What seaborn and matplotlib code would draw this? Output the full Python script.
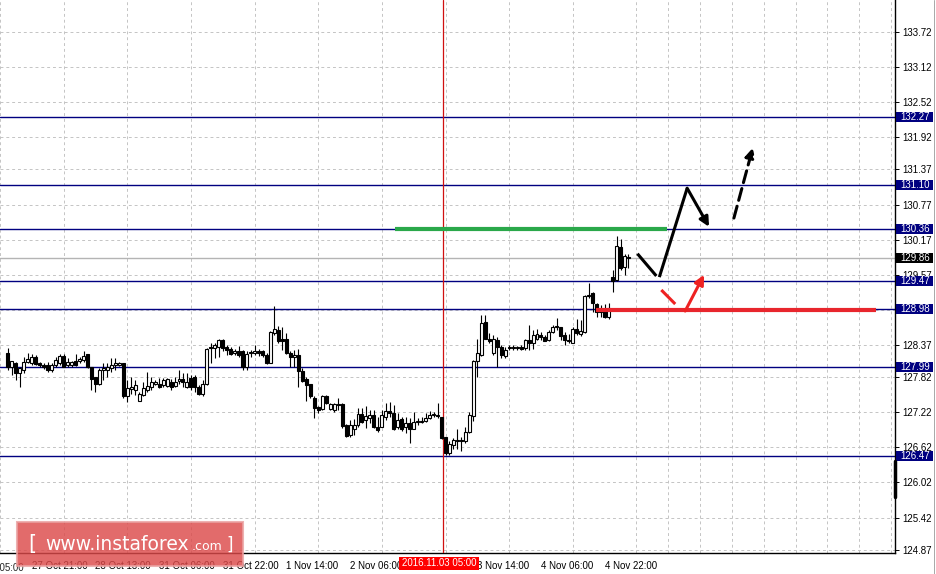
"""USD/JPY H1 chart with support/resistance levels and forecast arrows"""
import matplotlib
matplotlib.use("Agg")
import matplotlib.pyplot as plt
import matplotlib.transforms as mtransforms
from matplotlib.lines import Line2D
from matplotlib.patches import Rectangle, FancyBboxPatch
import numpy as np
import pandas as pd
import seaborn as sns

# hourly candles
opens = [
    128.24, 127.99, 128.07, 127.89, 127.94, 128.08, 128.06, 128.17, 128.07, 128.03,
    128.03, 127.95, 128.03, 128.06, 128.19, 128.02, 128.02, 128.09, 128.10, 128.11,
    128.21, 127.99, 127.82, 127.70, 127.94, 127.94, 127.97, 128.03, 128.03, 128.06,
    127.49, 127.61, 127.60, 127.42, 127.51, 127.60, 127.66, 127.71, 127.71, 127.69,
    127.67, 127.74, 127.67, 127.76, 127.78, 127.65, 127.81, 127.82, 127.65, 127.53,
    127.70, 128.34, 128.31, 128.33, 128.46, 128.34, 128.30, 128.24, 128.26, 128.26,
    128.00, 128.23, 128.23, 128.26, 128.26, 128.20, 128.07, 128.57, 128.63, 128.47,
    128.48, 128.23, 128.16, 128.20, 127.93, 127.78, 127.70, 127.47, 127.31, 127.27,
    127.50, 127.27, 127.26, 127.36, 127.36, 127.00, 126.83, 126.93, 127.00, 127.19,
    127.08, 127.12, 127.17, 126.97, 126.97, 127.14, 127.24, 127.20, 126.96, 127.10,
    126.96, 127.03, 126.94, 127.06, 127.06, 127.07, 127.12, 127.17, 127.18, 127.14,
    126.79, 126.53, 126.66, 126.73, 126.74, 126.73, 126.88, 127.16, 128.10, 128.20,
    128.77, 128.48, 128.23, 128.45, 128.34, 128.19, 128.31, 128.33, 128.31, 128.34,
    128.31, 128.45, 128.40, 128.47, 128.54, 128.51, 128.45, 128.60, 128.67, 128.67,
    128.54, 128.45, 128.41, 128.65, 128.56, 128.60, 129.21, 129.25, 129.07, 128.97,
    128.96, 128.84, 129.53, 129.48, 130.05, 129.70, 129.87,
]
highs = [
    128.31, 128.10, 128.08, 128.00, 128.17, 128.24, 128.22, 128.20, 128.08, 128.07,
    128.08, 128.06, 128.17, 128.22, 128.21, 128.14, 128.10, 128.22, 128.17, 128.26,
    128.22, 127.99, 127.83, 127.97, 128.06, 128.06, 128.14, 128.14, 128.08, 128.07,
    127.77, 127.83, 127.77, 127.57, 127.74, 127.90, 127.83, 127.77, 127.80, 127.80,
    127.80, 127.78, 127.83, 127.95, 127.89, 127.89, 127.85, 127.86, 127.69, 127.77,
    128.31, 128.41, 128.40, 128.47, 128.47, 128.37, 128.34, 128.30, 128.35, 128.28,
    128.26, 128.28, 128.37, 128.30, 128.28, 128.23, 128.61, 129.03, 128.69, 128.67,
    128.57, 128.26, 128.28, 128.30, 127.97, 127.83, 127.71, 127.49, 127.33, 127.51,
    127.51, 127.37, 127.38, 127.47, 127.37, 127.02, 127.09, 127.10, 127.29, 127.29,
    127.33, 127.26, 127.25, 127.14, 127.26, 127.37, 127.40, 127.34, 127.20, 127.14,
    127.14, 127.12, 127.22, 127.12, 127.14, 127.20, 127.24, 127.23, 127.37, 127.14,
    126.80, 126.72, 126.78, 126.94, 126.80, 126.97, 127.23, 128.11, 128.48, 128.89,
    128.89, 128.57, 128.54, 128.51, 128.37, 128.34, 128.37, 128.37, 128.36, 128.37,
    128.48, 128.71, 128.63, 128.64, 128.60, 128.54, 128.63, 128.71, 128.83, 128.68,
    128.60, 128.56, 128.68, 128.81, 128.80, 129.22, 129.43, 129.28, 129.09, 129.05,
    129.07, 129.09, 129.65, 130.23, 130.18, 129.92, 129.92,
]
lows = [
    127.95, 127.86, 127.77, 127.65, 127.89, 128.06, 128.03, 128.02, 128.00, 127.96,
    127.90, 127.91, 128.00, 128.03, 127.99, 128.00, 128.00, 128.01, 128.06, 128.08,
    127.97, 127.60, 127.57, 127.69, 127.77, 127.83, 127.91, 127.94, 128.01, 127.46,
    127.40, 127.54, 127.51, 127.41, 127.49, 127.57, 127.60, 127.69, 127.63, 127.66,
    127.65, 127.60, 127.65, 127.71, 127.66, 127.63, 127.60, 127.57, 127.51, 127.49,
    127.69, 128.06, 128.14, 128.17, 128.27, 128.20, 128.20, 128.20, 128.16, 127.94,
    127.94, 128.17, 128.20, 128.18, 128.17, 128.05, 128.06, 128.54, 128.40, 128.28,
    128.22, 128.00, 128.00, 127.65, 127.74, 127.42, 127.47, 127.12, 127.20, 127.25,
    127.36, 127.26, 127.23, 127.26, 126.95, 126.80, 126.80, 126.83, 126.97, 127.03,
    126.95, 127.03, 126.95, 126.89, 126.96, 127.09, 127.14, 126.92, 126.93, 126.90,
    126.86, 126.70, 126.93, 127.01, 127.03, 127.05, 127.10, 127.14, 127.12, 126.77,
    126.49, 126.49, 126.60, 126.59, 126.55, 126.70, 126.86, 127.07, 127.83, 128.19,
    128.47, 128.40, 128.20, 128.00, 128.15, 128.15, 128.28, 128.28, 128.28, 128.28,
    128.28, 128.28, 128.30, 128.45, 128.45, 128.43, 128.44, 128.57, 128.63, 128.45,
    128.37, 128.40, 128.40, 128.54, 128.52, 128.58, 129.17, 128.94, 128.85, 128.85,
    128.83, 128.81, 129.28, 129.47, 129.66, 129.57, 129.68,
]
closes = [
    127.99, 128.10, 127.89, 127.97, 128.08, 128.13, 128.16, 128.04, 128.02, 128.00,
    127.95, 128.03, 128.11, 128.19, 128.00, 128.08, 128.08, 128.02, 128.13, 128.19,
    127.99, 127.78, 127.70, 127.95, 127.97, 128.00, 128.03, 128.06, 128.07, 127.49,
    127.63, 127.66, 127.69, 127.53, 127.63, 127.67, 127.74, 127.74, 127.66, 127.77,
    127.78, 127.66, 127.74, 127.78, 127.74, 127.74, 127.65, 127.65, 127.54, 127.71,
    128.30, 128.31, 128.37, 128.46, 128.31, 128.28, 128.22, 128.27, 128.20, 128.00,
    128.22, 128.24, 128.26, 128.23, 128.20, 128.06, 128.60, 128.64, 128.44, 128.44,
    128.23, 128.16, 128.20, 127.93, 127.76, 127.69, 127.49, 127.29, 127.25, 127.50,
    127.37, 127.36, 127.36, 127.34, 126.98, 126.81, 127.00, 127.00, 127.19, 127.06,
    127.16, 127.17, 126.97, 126.92, 127.17, 127.24, 127.20, 126.93, 127.09, 126.93,
    127.03, 126.93, 127.05, 127.07, 127.07, 127.13, 127.17, 127.18, 127.16, 126.78,
    126.52, 126.67, 126.74, 126.74, 126.73, 126.89, 127.17, 128.10, 128.23, 128.74,
    128.48, 128.44, 128.48, 128.34, 128.20, 128.28, 128.33, 128.31, 128.33, 128.30,
    128.45, 128.40, 128.54, 128.56, 128.50, 128.44, 128.60, 128.68, 128.69, 128.52,
    128.45, 128.43, 128.65, 128.57, 128.61, 129.21, 129.22, 129.08, 128.94, 128.94,
    128.84, 129.01, 129.47, 130.06, 129.68, 129.89, 129.86,
]

# axis labels (empty where the reference hides the label under a box)
price_ticks = [133.72, 133.12, 132.52, 131.92, 131.37, 130.77, 130.17, 129.57,
               128.97, 128.37, 127.82, 127.22, 126.62, 126.02, 125.42, 124.87]
price_labels = ["133.72", "133.12", "132.52", "131.92", "131.37", "130.77", "130.17",
                "129.57", "", "128.37", "127.82", "127.22", "126.62", "126.02",
                "125.42", "124.87"]
time_pos = [6, 22, 38, 54, 70, 86, 102, 118, 134, 150]
time_labels = ["27 Oct 21:00", "28 Oct 13:00", "31 Oct 06:00", "31 Oct 22:00",
               "1 Nov 14:00", "2 Nov 06:00", "", "3 Nov 14:00",
               "4 Nov 06:00", "4 Nov 22:00"]

# horizontal levels
levels = [132.27, 131.10, 130.36, 129.47, 128.98, 127.99, 126.47]
bid = 129.86
cross_pos = 109.25
cross_label = "2016.11.03 05:00"

# analyst drawings (candle index, price)
green_x = [97.25, 165.75]
green_y = [130.36, 130.36]
red_x = [147.75, 218.25]
red_y = [128.96, 128.96]
black_segs = [((158.25, 129.93), (163.0, 129.55)),
              ((163.75, 129.53), (170.75, 131.05))]
black_arrow = ((170.75, 131.05), (176.25, 130.39))
dash_arrow = ((182.5, 130.54), (187.25, 131.74))
red_seg = ((164.25, 129.31), (167.75, 129.07))
red_arrow = ((170.25, 128.95), (175.0, 129.57))

NAVY = "#000080"
FS = 7

sns.set_style("white")
plt.rcParams["font.family"] = ["Liberation Sans", "DejaVu Sans"]

df = pd.DataFrame({"open": opens, "high": highs, "low": lows, "close": closes})
df["idx"] = np.arange(len(df))
df["bull"] = df["close"] >= df["open"]
df["bottom"] = df[["open", "close"]].min(axis=1)
df["body"] = (df["close"] - df["open"]).abs().clip(lower=0.012)

fig = plt.figure(figsize=(9.37, 5.74), dpi=100)
ax = fig.add_axes([0, 21 / 574, 895 / 937, 553 / 574])
ax.set_xlim(-0.75, 223)
ax.set_ylim(124.814, 134.267)

# grid
ax.set_axisbelow(True)
ax.set_yticks(price_ticks)
ax.set_yticklabels(price_labels)
ax.set_xticks(time_pos)
ax.set_xticklabels(time_labels, ha="left")
ax.set_xticks(np.arange(-2, 224, 8), minor=True)
grid_kw = dict(color="#c4c4c4", lw=0.7, ls=(0, (3, 3)))
ax.grid(True, axis="y", which="major", **grid_kw)
ax.grid(True, axis="x", which="minor", **grid_kw)
ax.grid(False, axis="x", which="major")
ax.yaxis.tick_right()
ax.tick_params(axis="y", labelsize=FS, length=3, width=0.7, pad=2, colors="black")
ax.tick_params(axis="x", which="major", labelsize=FS, length=4, width=0.7, pad=2,
               colors="black")
ax.tick_params(axis="x", which="minor", length=0)
for side in ["top", "left"]:
    ax.spines[side].set_visible(False)
for side in ["bottom", "right"]:
    ax.spines[side].set_color("black")
    ax.spines[side].set_linewidth(1)

# levels
for lv in levels:
    ax.axhline(lv, color=NAVY, lw=1, zorder=2)
ax.axhline(bid, color="#b4b4b4", lw=1, zorder=2)
ax.axvline(cross_pos, color="#d01010", lw=0.9, zorder=2.6)

# candles
ax.vlines(df["idx"], df["low"], df["high"], color="black", lw=0.8, zorder=3)
ax.bar(df["idx"], df["body"], bottom=df["bottom"], width=0.75,
       color=np.where(df["bull"], "white", "black"), edgecolor="black",
       linewidth=0.8, zorder=4)

# drawings
ax.plot(green_x, green_y, color="#2aa84a", lw=3, solid_capstyle="butt", zorder=5)
ax.plot(red_x, red_y, color="#e8262d", lw=3, solid_capstyle="butt", zorder=5)
for (x0, y0), (x1, y1) in black_segs:
    ax.plot([x0, x1], [y0, y1], color="black", lw=2.2, solid_capstyle="butt", zorder=6)
ax.plot([red_seg[0][0], red_seg[1][0]], [red_seg[0][1], red_seg[1][1]],
        color="#ee2222", lw=2.2, solid_capstyle="butt", zorder=6)
ax.annotate("", xy=black_arrow[1], xytext=black_arrow[0], zorder=6,
            arrowprops=dict(arrowstyle="-|>", color="black", lw=2.2,
                            mutation_scale=14, shrinkA=0, shrinkB=0))
ax.annotate("", xy=dash_arrow[1], xytext=dash_arrow[0], zorder=6,
            arrowprops=dict(arrowstyle="-|>", color="black", lw=2.2, ls=(0, (4, 2)),
                            mutation_scale=14, shrinkA=0, shrinkB=0))
ax.annotate("", xy=red_arrow[1], xytext=red_arrow[0], zorder=6,
            arrowprops=dict(arrowstyle="-|>", color="#ee2222", lw=2.2,
                            mutation_scale=14, shrinkA=0, shrinkB=0))

# price boxes on the right scale
trans = mtransforms.blended_transform_factory(ax.transAxes, ax.transData)
box_w = 37 / 895
box_h = 10 / 58.5
for lv, face in [(v, NAVY) for v in levels] + [(bid, "black")]:
    ax.add_patch(Rectangle((1.0015, lv - box_h / 2), box_w, box_h, transform=trans,
                           facecolor=face, edgecolor="none", clip_on=False, zorder=7))
    ax.text(1.0015 + box_w / 2, lv, f"{lv:.2f}", transform=trans, color="white",
            fontsize=FS, ha="center", va="center", clip_on=False, zorder=8)
ax.plot([1.0, 1.0], [126.39, 125.77], transform=trans, color="black", lw=2.5,
        clip_on=False, zorder=7)
ax.text(-10, -0.018, "27 Oct 05:00", transform=mtransforms.blended_transform_factory(
    ax.transData, ax.transAxes), fontsize=FS, ha="left", va="top", clip_on=False)

# crosshair time label
fig.add_artist(Rectangle((399 / 937, 4 / 574), 80 / 937, 13 / 574,
                         transform=fig.transFigure, facecolor="red", edgecolor="none"))
fig.text(439 / 937, 10.5 / 574, cross_label, color="white", fontsize=FS,
         ha="center", va="center")

# watermark
fig.add_artist(FancyBboxPatch((17 / 937, 8 / 574), 226 / 937, 44 / 574,
                              boxstyle="square,pad=0", transform=fig.transFigure,
                              facecolor="#dc4a4a", edgecolor="#eaa0a0", lw=1.5,
                              alpha=0.82))
wm = dict(color="white", va="baseline", family="DejaVu Sans")
fig.text(28 / 937, 24 / 574, "[", fontsize=15, **wm)
fig.text(45 / 937, 24 / 574, "www.instaforex", fontsize=13.5, **wm)
fig.text(192 / 937, 24 / 574, ".com", fontsize=9, **wm)
fig.text(226 / 937, 24 / 574, "]", fontsize=12, **wm)

fig.add_artist(Line2D([934 / 937, 934 / 937], [0, 1], color="#a8a8a8", lw=0.7))

fig.savefig("out.png", dpi=100)
